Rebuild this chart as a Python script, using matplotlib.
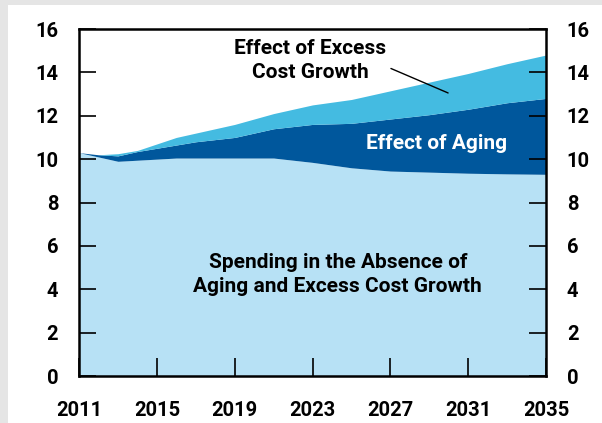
import matplotlib
matplotlib.use("Agg")
import matplotlib.pyplot as plt
from matplotlib.patches import Rectangle

years = [2011, 2012, 2013, 2014, 2015, 2016, 2017, 2018, 2019, 2021, 2023, 2025, 2027, 2029, 2031, 2033, 2035]
base_spending = [10.3, 10.1, 9.9, 9.95, 10.0, 10.05, 10.05, 10.05, 10.05, 10.05, 9.85, 9.6, 9.45, 9.4, 9.35, 9.32, 9.3]
with_aging = [10.3, 10.2, 10.15, 10.35, 10.5, 10.65, 10.8, 10.9, 11.0, 11.4, 11.6, 11.65, 11.85, 12.05, 12.3, 12.6, 12.8]
with_excess = [10.3, 10.2, 10.25, 10.4, 10.7, 11.0, 11.2, 11.4, 11.6, 12.1, 12.5, 12.75, 13.15, 13.55, 13.95, 14.4, 14.8]
x_ticks = [2011, 2015, 2019, 2023, 2027, 2031, 2035]
y_ticks = [0, 2, 4, 6, 8, 10, 12, 14, 16]

plt.rcParams["font.family"] = ["Roboto", "DejaVu Sans"]
plt.rcParams["font.weight"] = "bold"

c_base = "#b7e1f5"
c_aging = "#00579c"
c_excess = "#44bbe1"

fig = plt.figure(figsize=(6.02, 4.23), dpi=100, facecolor="#e5e5e5")
fig.patches.append(Rectangle((8/602, 0), 1, 1 - 5/423, transform=fig.transFigure,
                             facecolor="white", edgecolor="none", zorder=-10))
ax = fig.add_axes([79/602, 1 - 376/423, (546-79)/602, (376-29)/423])
ax.set_facecolor("white")

ax.fill_between(years, 0, base_spending, color=c_base, lw=0)
ax.fill_between(years, base_spending, with_aging, color=c_aging, lw=0)
ax.fill_between(years, with_aging, with_excess, color=c_excess, lw=0)

ax.set_xlim(2011, 2035)
ax.set_ylim(0, 16)
ax.set_xticks(x_ticks)
ax.set_yticks(y_ticks)
ax.tick_params(axis="y", which="both", direction="in", length=12, width=1.2,
               left=True, right=True, labelleft=True, labelright=True,
               labelsize=14.5, pad=15, colors="black")
ax.tick_params(axis="x", direction="in", length=13, width=1.2, labelsize=14.5, pad=18)
for sp in ax.spines.values():
    sp.set_linewidth(1.8)
    sp.set_zorder(5)

ax.text(2022.9, 14.55, "Effect of Excess\nCost Growth", ha="center", va="center",
        fontsize=15, fontweight="bold", linespacing=1.35)
ax.annotate("", xy=(2030.1, 13.0), xytext=(2026.9, 14.23),
            arrowprops=dict(arrowstyle="-", color="black", lw=1))
ax.text(2029.4, 10.72, "Effect of Aging", ha="center", va="center",
        fontsize=15, fontweight="bold", color="white")
ax.text(2024.3, 4.68, "Spending in the Absence of\nAging and Excess Cost Growth",
        ha="center", va="center", fontsize=15, fontweight="bold", linespacing=1.35)

fig.savefig("out.png", dpi=100, facecolor=fig.get_facecolor())
